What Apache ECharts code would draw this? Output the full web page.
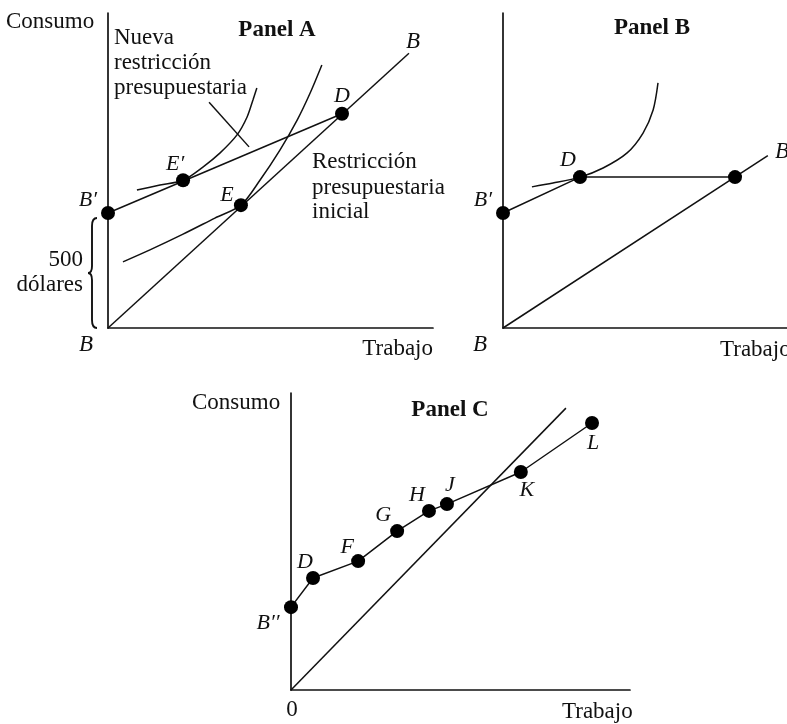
<!DOCTYPE html>
<html><head><meta charset="utf-8">
<script src="https://cdn.jsdelivr.net/npm/echarts@6/dist/echarts.min.js"></script>
<style>html,body{margin:0;padding:0;background:#fff}#c{width:787px;height:724px}</style>
</head><body><div id="c"></div>
<script>
// ---------- Panel A data ----------
const aBudgetInitial = [[0,0],[92.6,87.2]];
const aBudgetNew = [[0,36.5],[72,68]];
const aIndiffUpper = [[8.9,43.8],[16,45.4],[23.1,46.9],[29.2,51.1],[34.5,55.6],[39.7,61.3],[42.8,67.0],[44.6,72.4],[45.8,76.2]];
const aIndiffLower = [[4.6,21.0],[12.9,24.8],[23.1,29.8],[32.9,34.9],[40.9,39.0],[46.8,47.0],[52.9,56.5],[58.2,66.0],[62.2,74.6],[65.8,83.5]];
const aLeader = [[31.1,71.7],[43.4,57.5]];
const aPointNames = ['B′','E′','E','D'];
const aPointValues = [[0,36.5],[23.1,46.9],[40.9,39.0],[72,68]];
const aBraceRange = [0,36.5];

// ---------- Panel B data ----------
const bBudgetInitial = [[0,0],[81.5,54.7]];
const bBudgetNew = [[0,36.5],[23.7,47.9],[71.4,47.9]];
const bIndiff = [[8.9,44.8],[15.4,46.0],[23.7,47.9],[30.8,50.8],[38.2,55.6],[43.1,61.9],[46.2,69.2],[47.7,77.8]];
const bPointNames = ['B′','D',''];
const bPointValues = [[0,36.5],[23.7,47.9],[71.4,47.9]];

// ---------- Panel C data ----------
const cBudgetInitial = [[0,0],[81.1,94.9]];
const cPointNames = ['B′′','D','F','G','H','J','K','L'];
const cPointValues = [[0,27.9],[6.5,37.7],[19.8,43.4],[31.3,53.5],[40.7,60.3],[46.0,62.6],[67.8,73.4],[88.8,89.9]];

// ---------- styles ----------
const INK = '#111';
const FONT = '"Liberation Serif", "DejaVu Serif", serif';
const aLabelOffsets = [[-20,-13],[-8,-16],[-14,-10],[0,-18]];
const bLabelOffsets = [[-20,-13],[-12,-17],[0,0]];
const cLabelOffsets = [[-23,16],[-8,-16],[-11,-14],[-14,-16],[-12,-16],[3,-19],[6,18],[1,20]];

const chart = echarts.init(document.getElementById('c'));

function ax(grid, max){
  return {type:'value', gridIndex:grid, min:0, max:max,
    axisLine:{show:true, onZero:false, lineStyle:{color:INK, width:1.7}},
    axisTick:{show:false}, axisLabel:{show:false}, splitLine:{show:false}};
}
function lineS(grid, data, smooth){
  return {type:'line', xAxisIndex:grid, yAxisIndex:grid, data:data, smooth:smooth||false,
    symbol:'none', clip:false, silent:true, z:2, lineStyle:{color:INK, width:1.5}};
}
function dotsS(grid, names, values, offsets){
  return {type:'scatter', xAxisIndex:grid, yAxisIndex:grid, symbolSize:14, clip:false, z:5, silent:true,
    itemStyle:{color:'#000', opacity:1},
    emphasis:{disabled:true},
    label:{show:true, position:'inside', formatter:function(p){return p.name;},
      color:INK, fontFamily:FONT, fontStyle:'italic', fontSize:22},
    data: values.map(function(v,i){return {name:names[i], value:v, label:{offset:offsets[i]}};})};
}

// text annotations: [text, x, y, align, weight, style]
const texts = [
  ['Consumo',6,22,'left','normal','normal'],
  ['Panel A',277,30,'center','bold','normal'],
  ['Nueva',114,38,'left','normal','normal'],
  ['restricción',114,63,'left','normal','normal'],
  ['presupuestaria',114,88,'left','normal','normal'],
  ['Restricción',312,162,'left','normal','normal'],
  ['presupuestaria',312,188,'left','normal','normal'],
  ['inicial',312,212,'left','normal','normal'],
  ['500',83,260,'right','normal','normal'],
  ['dólares',83,285,'right','normal','normal'],
  ['B',86,345,'center','normal','italic'],
  ['Trabajo',433,349,'right','normal','normal'],
  ['B',413,42,'center','normal','italic'],
  ['Panel B',652,28,'center','bold','normal'],
  ['B',782,152,'center','normal','italic'],
  ['B',480,345,'center','normal','italic'],
  ['Trabajo',720,350,'left','normal','normal'],
  ['Consumo',192,403,'left','normal','normal'],
  ['Panel C',450,410,'center','bold','normal'],
  ['0',292,710,'center','normal','normal'],
  ['Trabajo',562,712,'left','normal','normal']
];
const graphicTexts = texts.map(function(t){
  return {type:'text', silent:true, style:{text:t[0], x:t[1], y:t[2], align:t[3], verticalAlign:'middle',
    font: t[5]+' '+t[4]+' 23px '+FONT, fill:INK}};
});

chart.setOption({
  animation:false,
  backgroundColor:'#fff',
  grid:[
    {left:108, top:13, width:325, height:315},
    {left:503, top:13, width:284, height:315},
    {left:291, top:393, width:339, height:297}
  ],
  xAxis:[ax(0,100), ax(1,87.4), ax(2,100)],
  yAxis:[ax(0,100), ax(1,100), ax(2,100)],
  series:[
    lineS(0, aBudgetInitial),
    lineS(0, aBudgetNew),
    lineS(0, aIndiffUpper, 0.3),
    lineS(0, aIndiffLower, 0.3),
    lineS(0, aLeader),
    dotsS(0, aPointNames, aPointValues, aLabelOffsets),
    lineS(1, bBudgetInitial),
    lineS(1, bBudgetNew),
    lineS(1, bIndiff, 0.3),
    dotsS(1, bPointNames, bPointValues, bLabelOffsets),
    lineS(2, cBudgetInitial),
    lineS(2, cPointValues),
    dotsS(2, cPointNames, cPointValues, cLabelOffsets)
  ],
  graphic: graphicTexts
});

// brace spanning the 500-dollar gap, placed via the axis scale
const pTop = chart.convertToPixel({gridIndex:0}, [0, aBraceRange[1]]);
const pBot = chart.convertToPixel({gridIndex:0}, [0, aBraceRange[0]]);
const yT = pTop[1] + 5, yB = pBot[1], yM = (yT + yB) / 2;
const xR = pTop[0] - 11, xS = xR - 5, xC = xR - 9;
const bs = {stroke:INK, lineWidth:1.9, fill:null};
const brace = [
  {type:'bezierCurve', silent:true, shape:{x1:xR,y1:yT,x2:xS,y2:yT+8,cpx1:xS,cpy1:yT}, style:bs},
  {type:'line', silent:true, shape:{x1:xS,y1:yT+8,x2:xS,y2:yM-7}, style:bs},
  {type:'bezierCurve', silent:true, shape:{x1:xS,y1:yM-7,x2:xC,y2:yM,cpx1:xS,cpy1:yM}, style:bs},
  {type:'bezierCurve', silent:true, shape:{x1:xC,y1:yM,x2:xS,y2:yM+7,cpx1:xS,cpy1:yM}, style:bs},
  {type:'line', silent:true, shape:{x1:xS,y1:yM+7,x2:xS,y2:yB-8}, style:bs},
  {type:'bezierCurve', silent:true, shape:{x1:xS,y1:yB-8,x2:xR,y2:yB,cpx1:xS,cpy1:yB}, style:bs}
];
chart.setOption({graphic: graphicTexts.concat(brace)});
</script>
</body></html>
